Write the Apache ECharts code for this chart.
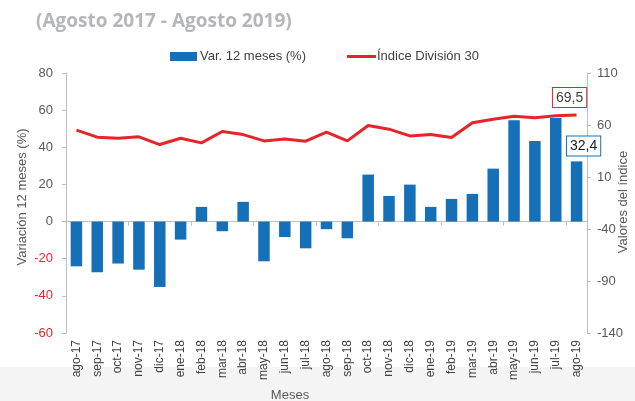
<!DOCTYPE html>
<html>
<head>
<meta charset="utf-8">
<script src="https://cdn.jsdelivr.net/npm/echarts@6/dist/echarts.min.js"></script>
<style>
  html, body { margin: 0; padding: 0; background: #fff; }
  #chart { width: 635px; height: 401px; }
</style>
</head>
<body>
<div id="chart"></div>
<script>
  var months = ['ago-17','sep-17','oct-17','nov-17','dic-17','ene-18','feb-18','mar-18','abr-18','may-18','jun-18','jul-18','ago-18',
    'sep-18','oct-18','nov-18','dic-18','ene-19','feb-19','mar-19','abr-19','may-19','jun-19','jul-19','ago-19'];
  var varDoce = [-24.1,-27.3,-22.6,-25.9,-35.2,-9.7,7.9,-5.2,10.6,-21.4,-8.3,-14.4,-4.1,
    -9.0,25.3,13.8,19.9,7.9,12.2,14.9,28.5,54.5,43.4,55.8,32.4];
  var indice = [55.0,48.3,47.3,48.6,41.2,47.3,42.8,53.7,50.8,44.7,46.6,44.4,53.1,
    44.7,59.5,56.0,49.5,50.8,47.9,62.1,65.6,68.5,66.9,68.8,69.5];

  var blue = '#1570b8';
  var red = '#e8242b';
  var grey = '#595959';
  var axisGrey = '#bfbfbf';
  var font = 'Liberation Sans, Arial, sans-serif';

  function coma(v) { return String(v).replace('.', ','); }

  // solo el ultimo dato lleva etiqueta
  var barData = varDoce.map(function (v, i) {
    if (i !== varDoce.length - 1) return v;
    return {
      value: v,
      label: {
        show: true, position: 'top', offset: [7, -1],
        formatter: function (p) { return coma(p.value); },
        backgroundColor: '#fff', borderColor: blue, borderWidth: 1,
        padding: [3, 3, 2, 3], fontSize: 14, color: '#1a1a1a', fontFamily: font
      }
    };
  });
  var lineData = indice.map(function (v, i) {
    if (i !== indice.length - 1) return v;
    return {
      value: v,
      label: {
        show: true, position: 'top', offset: [-7, -3],
        formatter: function (p) { return coma(p.value); },
        backgroundColor: '#fff', borderColor: red, borderWidth: 1,
        padding: [3, 3, 2, 3], fontSize: 14, color: '#404040', fontFamily: font
      }
    };
  });

  var chart = echarts.init(document.getElementById('chart'));
  chart.setOption({
    animation: false,
    textStyle: { fontFamily: font },
    grid: { left: 66, right: 48, top: 73, bottom: 68 },
    graphic: [
      { type: 'rect', z: -10, shape: { x: 0, y: 367, width: 635, height: 34 }, style: { fill: '#f4f4f4' } },
      { type: 'text', left: 36, top: 12, style: { text: '(Agosto 2017 - Agosto 2019)', fill: '#b4b6ba', font: 'bold 19px "Open Sans", Arial, sans-serif' } },
      { type: 'text', x: 290, y: 395, style: { text: 'Meses', fill: grey, font: '13px "Liberation Sans", Arial, sans-serif', align: 'center', verticalAlign: 'middle' } },
      { type: 'text', x: 22, y: 197, rotation: Math.PI / 2, style: { text: 'Variación 12 meses (%)', fill: grey, font: '13px "Liberation Sans", Arial, sans-serif', align: 'center', verticalAlign: 'middle' } },
      { type: 'text', x: 623, y: 202, rotation: Math.PI / 2, style: { text: 'Valores del índice', fill: grey, font: '13px "Liberation Sans", Arial, sans-serif', align: 'center', verticalAlign: 'middle' } }
    ],
    legend: [
      { left: 165, top: 45, icon: 'rect', itemWidth: 27, itemHeight: 9, data: ['Var. 12 meses (%)'],
        textStyle: { fontSize: 13, color: '#404040', padding: [0, 0, 0, -2] } },
      { left: 342, top: 45, icon: 'rect', itemWidth: 29, itemHeight: 3, data: ['Índice División 30'],
        textStyle: { fontSize: 13, color: '#404040', padding: [0, 0, 0, -4] } }
    ],
    xAxis: [
      {
        type: 'category', data: months, position: 'bottom',
        axisLine: { show: false, onZero: false }, axisTick: { show: false },
        axisLabel: { rotate: 90, fontSize: 12, color: '#404040', margin: 7, interval: 0 }
      },
      {
        // linea del eje en el cero
        type: 'category', data: months, position: 'bottom',
        axisLine: { show: true, onZero: true, onZeroAxisIndex: 0, lineStyle: { color: axisGrey } },
        axisTick: { show: true, length: 4, lineStyle: { color: axisGrey } },
        axisLabel: { show: false }
      }
    ],
    yAxis: [
      {
        type: 'value', min: -60, max: 80, interval: 20, position: 'left',
        axisLine: { show: true, lineStyle: { color: axisGrey } },
        axisTick: { show: true, length: 4, lineStyle: { color: axisGrey } },
        splitLine: { show: false },
        axisLabel: { fontSize: 13, margin: 13, color: function (v) { return Number(v) < 0 ? '#e8242b' : grey; } }
      },
      {
        type: 'value', min: -140, max: 110, interval: 50, position: 'right',
        axisLine: { show: true, lineStyle: { color: axisGrey } },
        axisTick: { show: true, length: 4, lineStyle: { color: axisGrey } },
        splitLine: { show: false },
        axisLabel: { fontSize: 13, margin: 10, color: grey }
      }
    ],
    series: [
      {
        name: 'Var. 12 meses (%)', type: 'bar', xAxisIndex: 0, yAxisIndex: 0,
        barWidth: 11.5, itemStyle: { color: blue }, data: barData
      },
      {
        name: 'Índice División 30', type: 'line', xAxisIndex: 0, yAxisIndex: 1,
        symbol: 'circle', symbolSize: 0, showSymbol: true,
        lineStyle: { color: red, width: 3 }, itemStyle: { color: red }, data: lineData
      }
    ]
  });
</script>
</body>
</html>
